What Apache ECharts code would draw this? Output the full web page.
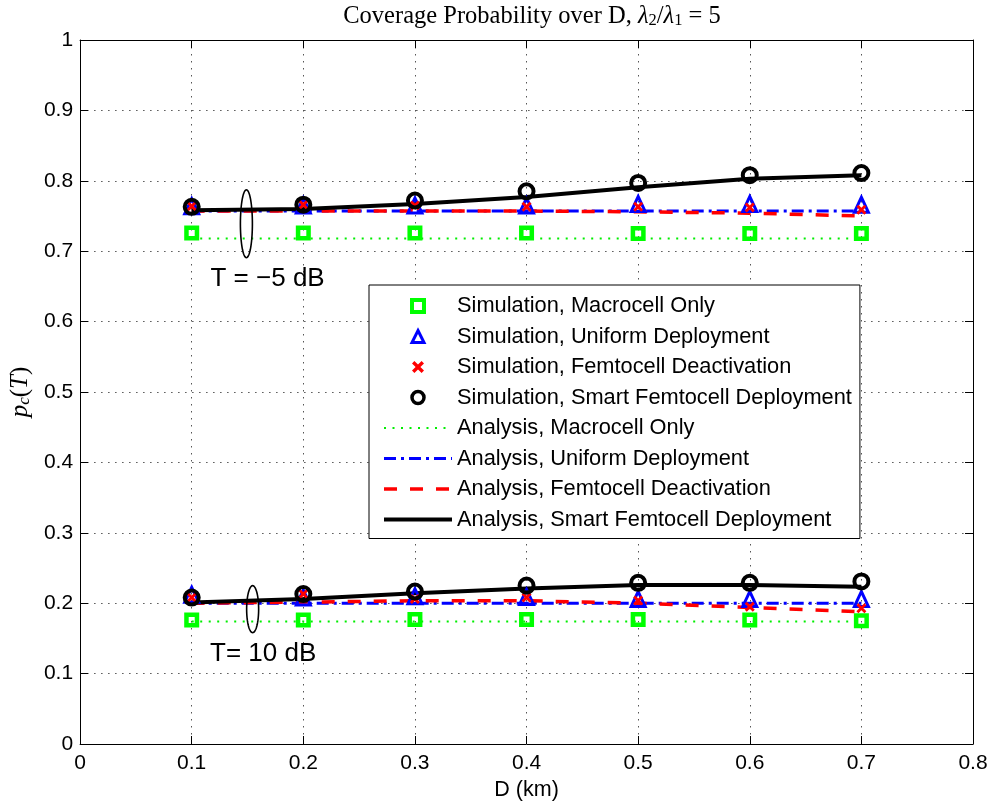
<!DOCTYPE html>
<html><head><meta charset="utf-8">
<script src="https://cdn.jsdelivr.net/npm/echarts@6/dist/echarts.min.js"></script>
<style>html,body{margin:0;padding:0;background:#fff}#c{width:993px;height:806px}</style>
</head><body><div id="c"></div>
<script>
// x values (D in km)
const D = [0.1, 0.2, 0.3, 0.4, 0.5, 0.6, 0.7];
const xTicks = [0, 0.1, 0.2, 0.3, 0.4, 0.5, 0.6, 0.7, 0.8];
const yTicks = [0, 0.1, 0.2, 0.3, 0.4, 0.5, 0.6, 0.7, 0.8, 0.9, 1];

// T = -5 dB group
const simMacroHi   = [0.726, 0.726, 0.726, 0.726, 0.725, 0.725, 0.725];
const simUniformHi = [0.764, 0.765, 0.765, 0.765, 0.767, 0.767, 0.766];
const simDeactHi   = [0.764, 0.766, 0.765, 0.763, 0.763, 0.762, 0.759];
const simSmartHi   = [0.763, 0.766, 0.772, 0.785, 0.797, 0.808, 0.811];
const anaMacroHi   = [0.718, 0.718, 0.718, 0.718, 0.718, 0.718, 0.718];
const anaUniformHi = [0.757, 0.757, 0.757, 0.757, 0.757, 0.757, 0.757];
const anaDeactHi   = [0.757, 0.757, 0.757, 0.757, 0.756, 0.754, 0.750];
const anaSmartHi   = [0.758, 0.760, 0.767, 0.777, 0.791, 0.803, 0.808];

// T = 10 dB group
const simMacroLo   = [0.176, 0.176, 0.177, 0.177, 0.177, 0.176, 0.175];
const simUniformLo = [0.212, 0.208, 0.210, 0.209, 0.206, 0.206, 0.206];
const simDeactLo   = [0.208, 0.213, 0.206, 0.208, 0.204, 0.195, 0.193];
const simSmartLo   = [0.208, 0.213, 0.2165, 0.225, 0.229, 0.229, 0.231];
const anaMacroLo   = [0.174, 0.174, 0.174, 0.174, 0.174, 0.174, 0.174];
const anaUniformLo = [0.200, 0.200, 0.200, 0.200, 0.200, 0.200, 0.200];
const anaDeactLo   = [0.200, 0.2015, 0.2035, 0.2035, 0.200, 0.194, 0.188];
const anaSmartLo   = [0.201, 0.206, 0.214, 0.221, 0.226, 0.226, 0.2235];

const names = [
  'Simulation, Macrocell Only',
  'Simulation, Uniform Deployment',
  'Simulation, Femtocell Deactivation',
  'Simulation, Smart Femtocell Deployment',
  'Analysis, Macrocell Only',
  'Analysis, Uniform Deployment',
  'Analysis, Femtocell Deactivation',
  'Analysis, Smart Femtocell Deployment'
];

// annotations (data coordinates)
const ellipseAnchors = [[0.149, 0.739], [0.1546, 0.1915]];
const noteAnchors = [[0.168, 0.661], [0.164, 0.128]];
const noteLabels = ['T = \u22125 dB', 'T= 10 dB'];

const pair = arr => D.map((d, i) => [d, arr[i]]);
const SANS = 'Liberation Sans';
const SERIF = 'Liberation Serif';
const xShape = 'path://M2,0 L5,3 L8,0 L10,2 L7,5 L10,8 L8,10 L5,7 L2,10 L0,8 L3,5 L0,2 Z';
const sqShape = 'path://M0,0 L10,0 L10,10 L0,10 Z';
const triShape = 'path://M5,0 L10,10 L0,10 Z';

function lineSeries(name, data, color, width, type) {
  return {
    type: 'line', name, data: pair(data), symbol: 'none', showSymbol: false,
    lineStyle: { color, width, type }, itemStyle: { color },
    z: 2, silent: true
  };
}
function scatterSeries(name, data, symbol, size, style) {
  return {
    type: 'scatter', name, data: pair(data), symbol, symbolSize: size,
    itemStyle: Object.assign({ opacity: 1 }, style), z: 3, silent: true
  };
}

const greenStyle = { color: 'rgba(0,0,0,0)', borderColor: '#00ff00', borderWidth: 4.5 };
const blueStyle = { color: 'rgba(0,0,0,0)', borderColor: '#0000ff', borderWidth: 3 };
const redStyle = { color: '#ff0000', borderWidth: 0 };
const blackStyle = { color: 'rgba(0,0,0,0)', borderColor: '#000000', borderWidth: 4 };

const lineDefs = [
  [anaMacroHi, anaMacroLo, 4, '#00ee00', 2, [2, 6.5]],
  [anaUniformHi, anaUniformLo, 5, '#0000ff', 3, [12, 5, 3, 5]],
  [anaDeactHi, anaDeactLo, 6, '#ff0000', 3.5, [13, 13]],
  [anaSmartHi, anaSmartLo, 7, '#000000', 4, 'solid']
];
const series = [];
lineDefs.forEach(([hi, lo, ni, c, w, t]) => {
  series.push(lineSeries(names[ni], hi, c, w, t));
  series.push(lineSeries(names[ni], lo, c, w, t));
});
[[simMacroHi, simMacroLo, 0, sqShape, 10.5, greenStyle],
 [simUniformHi, simUniformLo, 1, triShape, [14, 15], blueStyle],
 [simDeactHi, simDeactLo, 2, xShape, 10, redStyle],
 [simSmartHi, simSmartLo, 3, 'circle', 14, blackStyle]
].forEach(([hi, lo, ni, s, sz, st]) => {
  series.push(scatterSeries(names[ni], hi, s, sz, st));
  series.push(scatterSeries(names[ni], lo, s, sz, st));
});

series.push({
  type: 'custom', name: 'ellipses', data: ellipseAnchors, silent: true, z: 5,
  renderItem(params, api) {
    const c = api.coord([api.value(0), api.value(1)]);
    const rx = 6, ry = params.dataIndex === 0 ? 34 : 23.5;
    const pts = [];
    for (let k = 0; k < 72; k++) {
      const a = k / 72 * Math.PI * 2;
      pts.push([c[0] + rx * Math.cos(a), c[1] + ry * Math.sin(a)]);
    }
    return { type: 'polygon', shape: { points: pts },
      style: { fill: 'none', stroke: '#000', lineWidth: 1.6 } };
  }
});
series.push({
  type: 'custom', name: 'notes', data: noteAnchors, silent: true, z: 5,
  renderItem(params, api) {
    const c = api.coord([api.value(0), api.value(1)]);
    return { type: 'text', x: c[0], y: c[1],
      style: { text: noteLabels[params.dataIndex], fill: '#000',
        font: '26px "Liberation Sans"', align: 'center', verticalAlign: 'middle' } };
  }
});

const gridSplit = { show: true, lineStyle: { color: '#555', width: 1, type: [1.5, 5.5] } };
const axisLine = { show: true, onZero: false, lineStyle: { color: '#000', width: 1 } };
const tick = { show: true, inside: true, length: 8, lineStyle: { color: '#000' } };

const legendData = names.map((n, i) => {
  if (i === 0) return { name: n, itemStyle: { borderWidth: 4, opacity: 1 } };
  if (i === 1) return { name: n, itemStyle: { borderWidth: 3, opacity: 1 } };
  if (i === 2) return { name: n, itemStyle: { opacity: 1 } };
  if (i === 3) return { name: n, itemStyle: { borderWidth: 3.5, opacity: 1 } };
  const d = lineDefs[i - 4];
  return { name: n, itemStyle: { color: 'rgba(0,0,0,0)', borderWidth: 0, opacity: 0 },
    lineStyle: { width: d[4], color: d[3], type: d[5] } };
});

const option = {
  animation: false,
  backgroundColor: '#fff',
  title: {
    text: 'Coverage Probability over D, {i|\u03bb}{s|2}{n|/}{i|\u03bb}{s|1}{n| = 5}',
    left: 527, top: -1, textAlign: 'center',
    textStyle: {
      fontFamily: SERIF, fontSize: 24.5, fontWeight: 'normal', color: '#000',
      rich: {
        i: { fontFamily: SERIF, fontStyle: 'italic', fontSize: 24.5, color: '#000' },
        s: { fontFamily: SERIF, fontSize: 16.5, color: '#000', verticalAlign: 'bottom', lineHeight: 24 },
        n: { fontFamily: SERIF, fontSize: 24.5, color: '#000' }
      }
    }
  },
  grid: { left: 80, right: 20, top: 40, bottom: 62, containLabel: false },
  legend: {
    data: legendData,
    orient: 'vertical', left: 369, top: 285,
    itemWidth: 68, itemHeight: 12, itemGap: 8.5,
    padding: [10, 8, 8, 13],
    backgroundColor: '#fff', borderColor: '#000', borderWidth: 1,
    selectedMode: false,
    textStyle: { fontFamily: SANS, fontSize: 21.8, color: '#000', lineHeight: 22 }
  },
  xAxis: [{
    type: 'value', min: 0, max: 0.8, interval: 0.1,
    name: 'D (km)', nameLocation: 'middle', nameGap: 32,
    nameTextStyle: { fontFamily: SANS, fontSize: 21.5, color: '#000' },
    axisLine, axisTick: tick, splitLine: gridSplit,
    axisLabel: { fontFamily: SANS, fontSize: 21, color: '#000', margin: 9,
      formatter: v => xTicks.includes(+v.toFixed(1)) ? String(+v.toFixed(1)) : '' }
  }, {
    type: 'value', min: 0, max: 0.8, interval: 0.1, position: 'top',
    axisLine, axisTick: tick, splitLine: { show: false }, axisLabel: { show: false }
  }],
  yAxis: [{
    type: 'value', min: 0, max: 1, interval: 0.1,
    name: '{i|p}{s|c}{n|(}{i|T}{n|)}', nameLocation: 'middle', nameGap: 42, nameRotate: 90,
    nameTextStyle: {
      fontFamily: SERIF, fontSize: 25, color: '#000',
      rich: {
        i: { fontFamily: SERIF, fontStyle: 'italic', fontSize: 25, color: '#000' },
        s: { fontFamily: SERIF, fontStyle: 'italic', fontSize: 17, color: '#000', verticalAlign: 'bottom', lineHeight: 25 },
        n: { fontFamily: SERIF, fontSize: 25, color: '#000' }
      }
    },
    axisLine, axisTick: tick, splitLine: gridSplit,
    axisLabel: { fontFamily: SANS, fontSize: 21, color: '#000', margin: 7,
      formatter: v => yTicks.includes(+v.toFixed(1)) ? String(+v.toFixed(1)) : '' }
  }, {
    type: 'value', min: 0, max: 1, interval: 0.1, position: 'right',
    axisLine, axisTick: tick, splitLine: { show: false }, axisLabel: { show: false }
  }],
  series
};

const chart = echarts.init(document.getElementById('c'), null, { renderer: 'canvas' });
chart.setOption(option);
</script>
</body></html>
